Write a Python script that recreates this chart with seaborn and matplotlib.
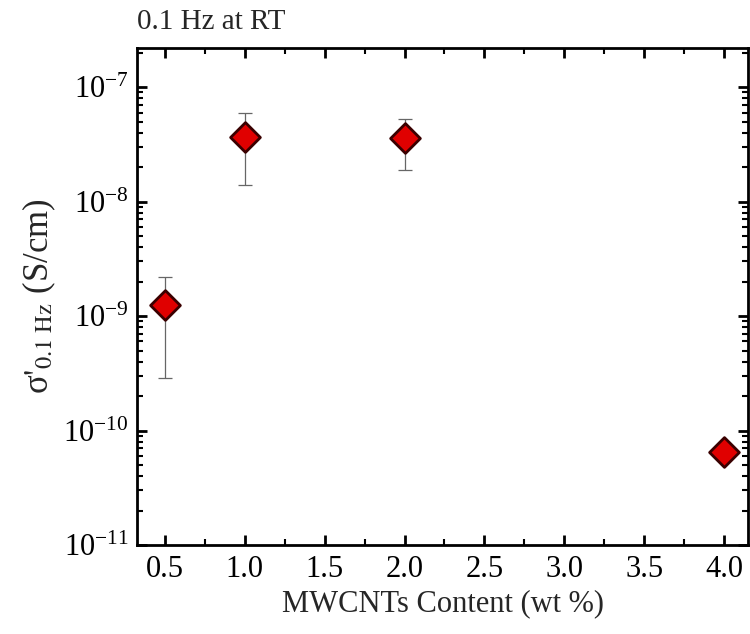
import numpy as np
import pandas as pd
import matplotlib
matplotlib.use("Agg")
import matplotlib.pyplot as plt
import seaborn as sns
from matplotlib.ticker import MultipleLocator, NullFormatter, FixedLocator

content = [0.5, 1.0, 2.0, 4.0]
sigma = [1.25e-9, 3.7e-8, 3.6e-8, 6.5e-11]
err_low = [2.9e-10, 1.4e-8, 1.9e-8, 6.5e-11]
err_high = [2.2e-9, 6.0e-8, 5.3e-8, 6.5e-11]
x_ticks = [0.5, 1.0, 1.5, 2.0, 2.5, 3.0, 3.5, 4.0]
y_ticks = [1e-11, 1e-10, 1e-9, 1e-8, 1e-7]

sns.set_theme(style="ticks")
plt.rcParams['font.family'] = ['Liberation Serif', 'DejaVu Serif']
plt.rcParams['mathtext.fontset'] = 'stix'

df = pd.DataFrame({"content": content, "sigma": sigma})

fig = plt.figure(figsize=(7.5, 6.34), dpi=100)
ax = fig.add_axes([137/750, 1 - 545/634, (748-137)/750, (545-48)/634])

lo = np.array(sigma) - np.array(err_low)
hi = np.array(err_high) - np.array(sigma)
ax.errorbar(content, sigma, yerr=[lo, hi], fmt='none', ecolor='#666666',
            elinewidth=0.9, capsize=5, capthick=0.9, zorder=2)
sns.scatterplot(data=df, x="content", y="sigma", marker='D', s=230,
                color='#e00000', edgecolor='#3a0000', linewidth=2.0, ax=ax, zorder=3)

ax.set_yscale('log')
ax.set_ylim(1e-11, 2.2e-7)
ax.set_xlim(0.325, 4.15)
ax.set_xticks(x_ticks)
ax.set_xticklabels([f"{v:.1f}" for v in x_ticks])
ax.xaxis.set_minor_locator(MultipleLocator(0.25))
ax.yaxis.set_major_locator(FixedLocator(y_ticks))
minor = [m * t for t in y_ticks for m in range(2, 10) if m * t < 2.2e-7]
ax.yaxis.set_minor_locator(FixedLocator(minor))
ax.yaxis.set_minor_formatter(NullFormatter())

ax.tick_params(which='both', direction='in', top=True, right=True, colors='black')
ax.tick_params(which='major', length=7, width=2, labelsize=22)
ax.tick_params(which='minor', length=4, width=1.5)
ax.tick_params(axis='x', which='major', pad=7)
ax.tick_params(axis='y', which='major', pad=6)
for s in ax.spines.values():
    s.set_linewidth(2)
    s.set_color('black')

ax.set_xlabel("MWCNTs Content (wt %)", fontsize=22, labelpad=4)
ax.set_ylabel(r"σ$'_{\mathrm{0.1\ Hz}}$ (S/cm)", fontsize=25, labelpad=4)
ax.set_title("0.1 Hz at RT", loc='left', fontsize=21, pad=14)

fig.savefig("out.png", dpi=100)
